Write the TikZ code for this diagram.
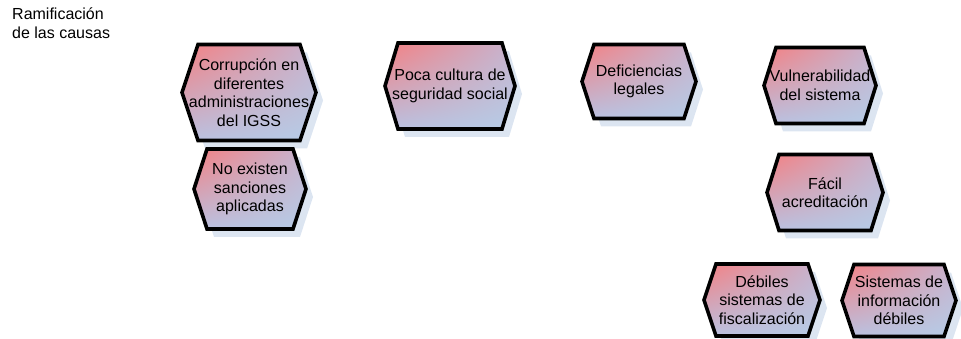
\documentclass[tikz,border=0pt]{standalone}
\usepackage{fontspec}
\setmainfont{Liberation Sans}
\usetikzlibrary{shadings}
\begin{document}
\definecolor{hexpink}{RGB}{244,128,130}
\definecolor{hexblue}{RGB}{182,204,230}
\definecolor{hexmauveA}{RGB}{198,180,208}
\definecolor{hexmauveB}{RGB}{186,192,224}
\definecolor{hexshadow}{RGB}{220,229,241}
\tikzset{
  hexline/.style={draw=black,line width=3.6pt,line join=miter},
  hexfill/.style={upper left=hexpink,lower right=hexblue,
                  upper right=hexmauveA,lower left=hexmauveB},
  hextext/.style={align=center,inner sep=0pt,font=\fontsize{16}{18.6}\selectfont},
  plain/.style={align=left,inner sep=0pt,font=\fontsize{16}{18.6}\selectfont},
}
% #1 name, #2 centre x, #3 centre y, #4 half width, #5 half height, #6 side inset, #7 text
\newcommand\hexitem[7]{%
  \fill[hexshadow] ({#2-#4+7},{#3+8}) -- ({#2-#4+#6+7},{#3-#5+8}) -- ({#2+#4-#6+7},{#3-#5+8})
     -- ({#2+#4+7},{#3+8}) -- ({#2+#4-#6+7},{#3+#5+8}) -- ({#2-#4+#6+7},{#3+#5+8}) -- cycle;
  \shade[hexfill] ({#2-#4},{#3}) -- ({#2-#4+#6},{#3-#5}) -- ({#2+#4-#6},{#3-#5})
     -- ({#2+#4},{#3}) -- ({#2+#4-#6},{#3+#5}) -- ({#2-#4+#6},{#3+#5}) -- cycle;
  \draw[hexline] ({#2-#4},{#3}) -- ({#2-#4+#6},{#3-#5}) -- ({#2+#4-#6},{#3-#5})
     -- ({#2+#4},{#3}) -- ({#2+#4-#6},{#3+#5}) -- ({#2-#4+#6},{#3+#5}) -- cycle;
  \node[hextext] (#1) at (#2,#3) {#7};%
}
\begin{tikzpicture}[x=1pt,y=-1pt]
  \useasboundingbox (0,0) rectangle (961,339);
  \node[plain,anchor=north west] (title) at (12,8) {Ramificación\\de las causas};

  \hexitem{corrupcion}{249}{92.5}{67}{48}{16}{Corrupción en\\diferentes\\administraciones\\del IGSS}
  \hexitem{sanciones}{250}{189}{56}{40}{13}{No existen\\sanciones\\aplicadas}
  \hexitem{cultura}{450}{86}{65}{43}{13}{Poca cultura de\\seguridad social}
  \hexitem{deficiencias}{639}{81.5}{57}{37}{12}{Deficiencias\\legales}
  \hexitem{vulnerabilidad}{820}{85.5}{56}{38}{12}{Vulnerabilidad\\del sistema}
  \hexitem{acreditacion}{825}{192.5}{58}{38}{12}{Fácil\\acreditación}
  \hexitem{fiscalizacion}{762}{300}{58}{36}{12}{Débiles\\sistemas de\\fiscalización}
  \hexitem{informacion}{899}{300.5}{57}{36}{12}{Sistemas de\\información\\débiles}
\end{tikzpicture}
\end{document}
